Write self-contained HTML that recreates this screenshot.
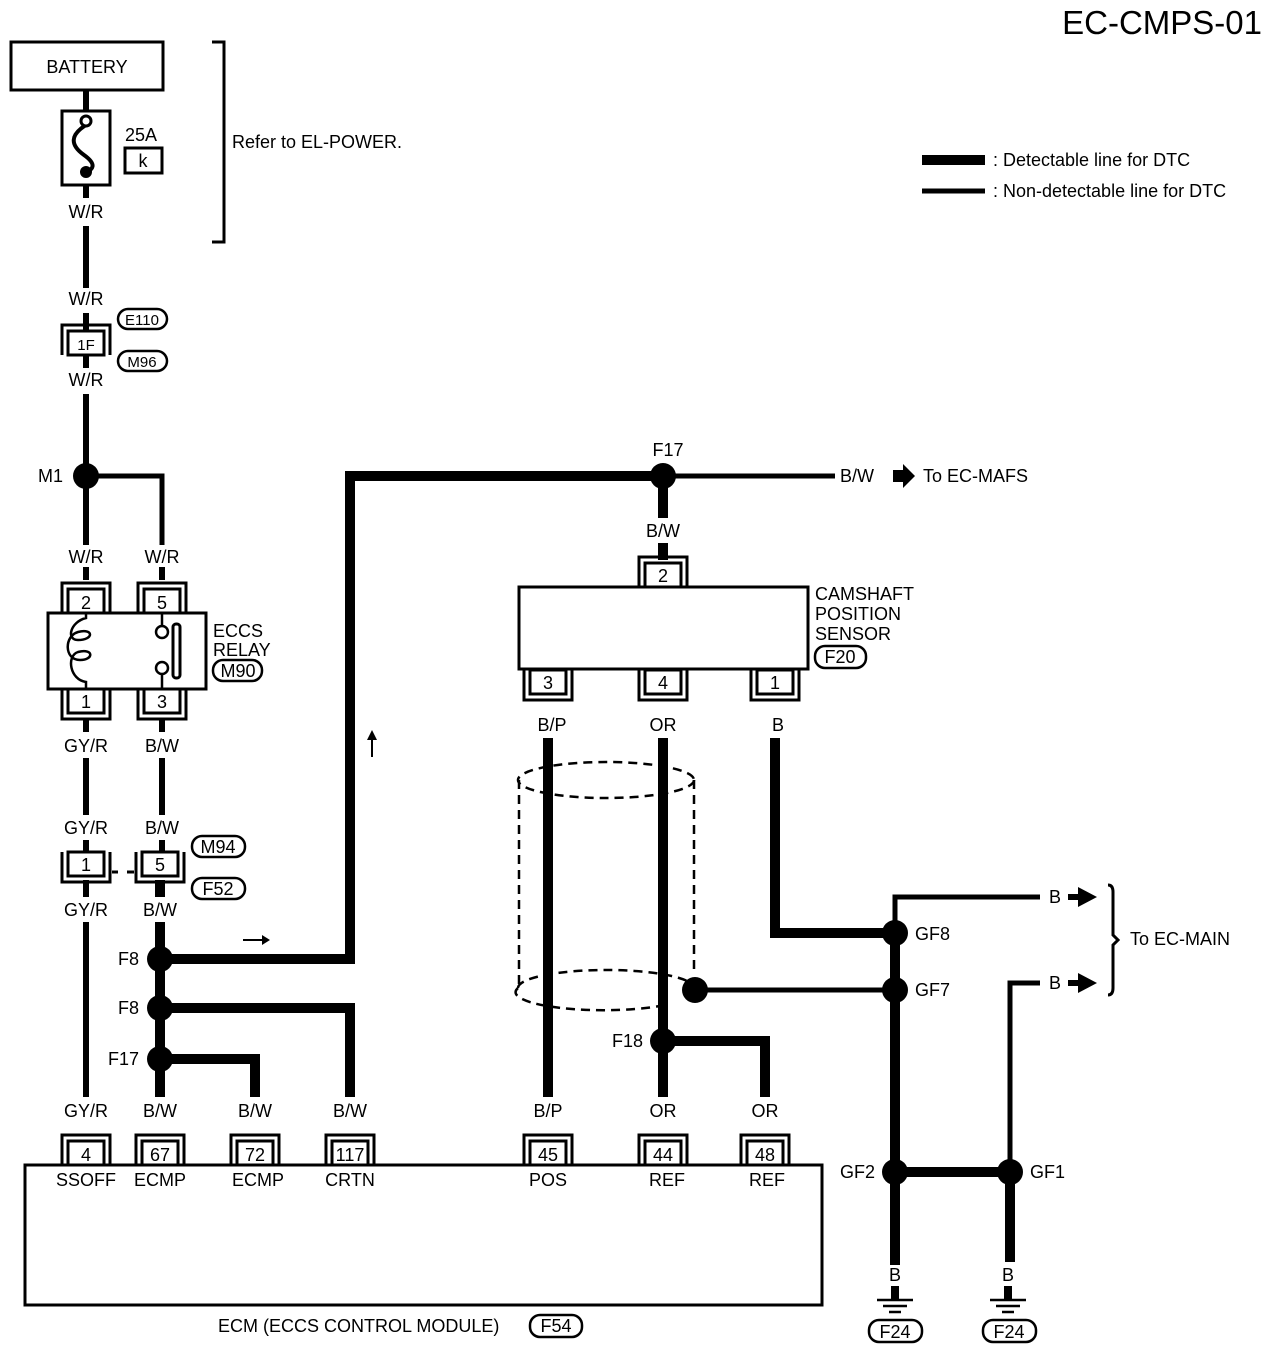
<!DOCTYPE html>
<html><head><meta charset="utf-8"><style>
body{margin:0;background:#fff}
svg{display:block}
text{font-family:"Liberation Sans",sans-serif;font-size:18px;fill:#000}
</style></head><body>
<svg width="1280" height="1350" viewBox="0 0 1280 1350" xmlns="http://www.w3.org/2000/svg">
<defs>
<g id="ct">
<path d="M-24,24 V-6 H24 V24" fill="none" stroke="#000" stroke-width="3"/>
<rect x="-18" y="0" width="36" height="24" fill="#fff" stroke="#000" stroke-width="3"/>
</g>
<g id="cb">
<path d="M-24,-24 V6 H24 V-24" fill="none" stroke="#000" stroke-width="3"/>
<rect x="-18" y="-24" width="36" height="24" fill="#fff" stroke="#000" stroke-width="3"/>
</g>
</defs>
<g fill="none" stroke="#000">
<rect x="11" y="42" width="152" height="48" stroke-width="3"/>
<line x1="86" y1="90" x2="86" y2="112" stroke-width="6"/>
<rect x="62" y="111" width="48" height="74" stroke-width="3"/>
<path d="M86,125 C70,135 70,145 84,155 C98,165 92,170 86,172" stroke-width="4"/>
<circle cx="86" cy="121" r="5" stroke-width="3" fill="#fff"/>
<line x1="86" y1="185" x2="86" y2="198" stroke-width="6"/>
<rect x="125" y="148" width="37" height="25" stroke-width="3"/>
<path d="M212,42 H224 V242 H212" stroke-width="3"/>
<line x1="86" y1="226" x2="86" y2="288" stroke-width="6"/>
<line x1="86" y1="313" x2="86" y2="330" stroke-width="6"/>
<line x1="86" y1="355" x2="86" y2="368" stroke-width="6"/>
<line x1="86" y1="394" x2="86" y2="545" stroke-width="6"/>
<path d="M86,476 H162 V545" stroke-width="5"/>
<line x1="86" y1="567" x2="86" y2="580" stroke-width="6"/>
<line x1="162" y1="567" x2="162" y2="580" stroke-width="6"/>
<rect x="48" y="613" width="158" height="76" stroke-width="3"/>
<path d="M86,613 V618 C70,622 66,640 78,640 C94,640 94,628 78,632 C64,636 64,660 80,660 C94,660 94,648 78,652 C66,656 70,680 86,682 V689" stroke-width="2.5"/>
<line x1="162" y1="613" x2="162" y2="625" stroke-width="2.5"/>
<circle cx="162" cy="632" r="6" stroke-width="2.5"/>
<circle cx="162" cy="668" r="6" stroke-width="2.5"/>
<line x1="162" y1="675" x2="162" y2="689" stroke-width="2.5"/>
<rect x="173" y="624" width="7" height="54" rx="3" stroke-width="3"/>
<line x1="86" y1="718" x2="86" y2="732" stroke-width="6"/>
<line x1="162" y1="718" x2="162" y2="732" stroke-width="6"/>
<line x1="86" y1="758" x2="86" y2="815" stroke-width="6"/>
<line x1="162" y1="758" x2="162" y2="815" stroke-width="6"/>
<line x1="86" y1="840" x2="86" y2="854" stroke-width="6"/>
<line x1="162" y1="840" x2="162" y2="854" stroke-width="6"/>
<line x1="112" y1="872" x2="118" y2="872" stroke-width="3"/>
<line x1="127" y1="872" x2="134" y2="872" stroke-width="3"/>
<line x1="86" y1="880" x2="86" y2="897" stroke-width="6"/>
<line x1="86" y1="922" x2="86" y2="1097" stroke-width="6"/>
<line x1="160" y1="880" x2="160" y2="897" stroke-width="10"/>
<line x1="160" y1="922" x2="160" y2="1097" stroke-width="10"/>
<path d="M160,959 H350 V476 H663" stroke-width="10"/>
<path d="M160,1008 H350 V1097" stroke-width="10"/>
<path d="M160,1059 H255 V1097" stroke-width="10"/>
<path d="M663,476 H835" stroke-width="5"/>
<line x1="663" y1="476" x2="663" y2="518" stroke-width="10"/>
<line x1="663" y1="543" x2="663" y2="560" stroke-width="10"/>
<rect x="519" y="587" width="289" height="82" stroke-width="3"/>
<line x1="548" y1="738" x2="548" y2="1097" stroke-width="10"/>
<line x1="663" y1="738" x2="663" y2="1097" stroke-width="10"/>
<path d="M663,1041 H765 V1097" stroke-width="10"/>
<path d="M775,738 V933 H895" stroke-width="10"/>
<g stroke-width="2.5" stroke-dasharray="9,6">
<ellipse cx="606" cy="780" rx="88" ry="18"/>
<line x1="519" y1="780" x2="519" y2="988"/>
<line x1="694" y1="780" x2="694" y2="975"/>
<path d="M518,988 A88,18 0 0 1 694,988"/>
<path d="M518,988 A88,18 0 0 0 670,1004"/>
</g>
<path d="M695,990 H895" stroke-width="5"/>
<path d="M895,933 V897 H1040" stroke-width="5"/>
<path d="M1010,1172 V983 H1040" stroke-width="5"/>
<line x1="895" y1="933" x2="895" y2="1265" stroke-width="10"/>
<line x1="895" y1="1172" x2="1010" y2="1172" stroke-width="10"/>
<line x1="1010" y1="1172" x2="1010" y2="1262" stroke-width="10"/>
<line x1="895" y1="1286" x2="895" y2="1300" stroke-width="8"/>
<line x1="1008" y1="1286" x2="1008" y2="1300" stroke-width="8"/>
<g stroke-width="2.5">
<line x1="877" y1="1300" x2="913" y2="1300"/><line x1="883" y1="1306" x2="907" y2="1306"/><line x1="889" y1="1312" x2="901" y2="1312"/>
<line x1="990" y1="1300" x2="1026" y2="1300"/><line x1="996" y1="1306" x2="1020" y2="1306"/><line x1="1002" y1="1312" x2="1014" y2="1312"/>
</g>
<path d="M1108,885 Q1113,885 1113,892 V935 L1118,940 L1113,945 V988 Q1113,995 1108,995" stroke-width="3"/>
<rect x="25" y="1165" width="797" height="140" stroke-width="3"/>
<line x1="922" y1="160" x2="985" y2="160" stroke-width="10"/>
<line x1="922" y1="191" x2="985" y2="191" stroke-width="5"/>
<g stroke-width="2.5">
<rect x="118" y="309" width="49" height="20" rx="10"/>
<rect x="118" y="351" width="49" height="20" rx="10"/>
<rect x="213" y="660" width="49" height="21" rx="10"/>
<rect x="192" y="836" width="53" height="21" rx="10"/>
<rect x="192" y="878" width="53" height="21" rx="10"/>
<rect x="815" y="646" width="51" height="22" rx="10"/>
<rect x="530" y="1315" width="52" height="22" rx="10"/>
<rect x="869" y="1320" width="53" height="22" rx="10"/>
<rect x="983" y="1320" width="53" height="22" rx="10"/>
</g>
</g>
<g fill="#000">
<circle cx="86" cy="172" r="6"/>
<circle cx="86" cy="476" r="13"/>
<circle cx="160" cy="959" r="13"/><circle cx="160" cy="1008" r="13"/><circle cx="160" cy="1059" r="13"/>
<circle cx="663" cy="476" r="13"/><circle cx="663" cy="1041" r="13"/>
<circle cx="695" cy="990" r="13"/>
<circle cx="895" cy="933" r="13"/><circle cx="895" cy="990" r="13"/><circle cx="895" cy="1172" r="13"/><circle cx="1010" cy="1172" r="13"/>
<path d="M893,470 H903 V464 L915,476 L903,488 V482 H893Z"/>
<path d="M1068,894 H1078 V887 L1097,897 L1078,907 V900 H1068Z"/>
<path d="M1068,980 H1078 V973 L1097,983 L1078,993 V986 H1068Z"/>
<path d="M243,939 H262 V935 L270,940 L262,945 V941 H243Z"/>
<path d="M371,757 V740 H367 L372,730 L377,740 H373 V757Z"/>
</g>
<g transform="translate(86,331)"><use href="#ct"/></g>
<g transform="translate(86,589)"><use href="#ct"/></g>
<g transform="translate(162,589)"><use href="#ct"/></g>
<g transform="translate(86,713)"><use href="#cb"/></g>
<g transform="translate(162,713)"><use href="#cb"/></g>
<g transform="translate(86,876)"><use href="#cb"/></g>
<g transform="translate(160,876)"><use href="#cb"/></g>
<g transform="translate(663,563)"><use href="#ct"/></g>
<g transform="translate(548,694)"><use href="#cb"/></g>
<g transform="translate(663,694)"><use href="#cb"/></g>
<g transform="translate(775,694)"><use href="#cb"/></g>
<g transform="translate(86,1141)"><use href="#ct"/></g>
<g transform="translate(160,1141)"><use href="#ct"/></g>
<g transform="translate(255,1141)"><use href="#ct"/></g>
<g transform="translate(350,1141)"><use href="#ct"/></g>
<g transform="translate(548,1141)"><use href="#ct"/></g>
<g transform="translate(663,1141)"><use href="#ct"/></g>
<g transform="translate(765,1141)"><use href="#ct"/></g>
<text x="1262" y="34" text-anchor="end" style="font-size:33px">EC-CMPS-01</text>
<text x="87" y="73" text-anchor="middle">BATTERY</text>
<text x="125" y="141">25A</text>
<text x="143" y="167" text-anchor="middle">k</text>
<text x="232" y="148">Refer to EL-POWER.</text>
<text x="993" y="166">: Detectable line for DTC</text>
<text x="993" y="197">: Non-detectable line for DTC</text>
<g text-anchor="middle">
<text x="86" y="218">W/R</text>
<text x="86" y="305">W/R</text>
<text x="86" y="386">W/R</text>
<text x="86" y="350" style="font-size:15px">1F</text>
<text x="142" y="325" style="font-size:15px">E110</text>
<text x="142" y="367" style="font-size:15px">M96</text>
<text x="86" y="563">W/R</text>
<text x="162" y="563">W/R</text>
<text x="86" y="609">2</text><text x="162" y="609">5</text>
<text x="86" y="708">1</text><text x="162" y="708">3</text>
<text x="86" y="752">GY/R</text><text x="162" y="752">B/W</text>
<text x="86" y="834">GY/R</text><text x="162" y="834">B/W</text>
<text x="86" y="871">1</text><text x="160" y="871">5</text>
<text x="86" y="916">GY/R</text><text x="160" y="916">B/W</text>
<text x="238" y="677">M90</text>
<text x="218" y="853">M94</text>
<text x="218" y="895">F52</text>
<text x="86" y="1117">GY/R</text><text x="160" y="1117">B/W</text><text x="255" y="1117">B/W</text><text x="350" y="1117">B/W</text>
<text x="548" y="1117">B/P</text><text x="663" y="1117">OR</text><text x="765" y="1117">OR</text>
<text x="86" y="1161">4</text><text x="160" y="1161">67</text><text x="255" y="1161">72</text><text x="350" y="1161">117</text>
<text x="548" y="1161">45</text><text x="663" y="1161">44</text><text x="765" y="1161">48</text>
<text x="86" y="1186">SSOFF</text><text x="160" y="1186">ECMP</text><text x="258" y="1186">ECMP</text><text x="350" y="1186">CRTN</text>
<text x="548" y="1186">POS</text><text x="667" y="1186">REF</text><text x="767" y="1186">REF</text>
<text x="663" y="537">B/W</text>
<text x="663" y="582">2</text>
<text x="548" y="689">3</text><text x="663" y="689">4</text><text x="775" y="689">1</text>
<text x="552" y="731">B/P</text><text x="663" y="731">OR</text><text x="778" y="731">B</text>
<text x="840" y="663">F20</text>
<text x="556" y="1332">F54</text>
<text x="895" y="1281">B</text><text x="1008" y="1281">B</text>
<text x="895" y="1338">F24</text><text x="1009" y="1338">F24</text>
<text x="1055" y="903">B</text><text x="1055" y="989">B</text>
<text x="668" y="456">F17</text>
</g>
<text x="38" y="482">M1</text>
<text x="213" y="637">ECCS</text>
<text x="213" y="656">RELAY</text>
<text x="118" y="965">F8</text>
<text x="118" y="1014">F8</text>
<text x="108" y="1065">F17</text>
<text x="840" y="482">B/W</text>
<text x="923" y="482">To EC-MAFS</text>
<text x="815" y="600">CAMSHAFT</text>
<text x="815" y="620">POSITION</text>
<text x="815" y="640">SENSOR</text>
<text x="612" y="1047">F18</text>
<text x="915" y="940">GF8</text>
<text x="915" y="996">GF7</text>
<text x="840" y="1178">GF2</text>
<text x="1030" y="1178">GF1</text>
<text x="1130" y="945">To EC-MAIN</text>
<text x="218" y="1332">ECM (ECCS CONTROL MODULE)</text>
</svg>
</body></html>
